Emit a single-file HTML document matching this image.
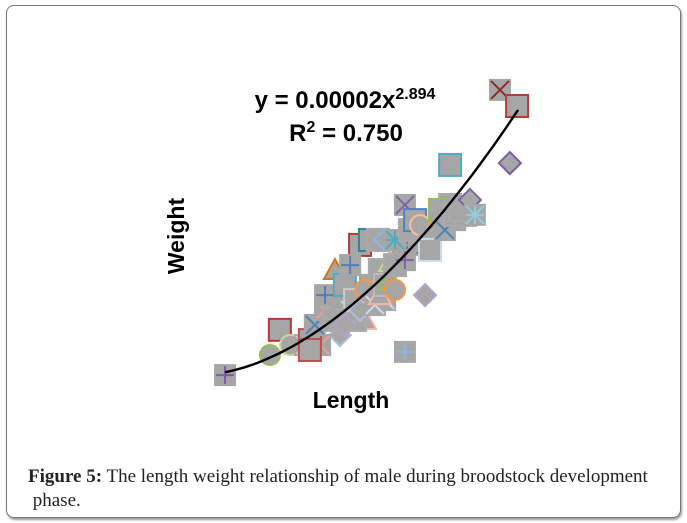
<!DOCTYPE html>
<html><head><meta charset="utf-8"><style>
html,body{margin:0;padding:0;background:#fff;}
body{width:687px;height:523px;position:relative;overflow:hidden;}
#frame{position:absolute;left:6px;top:5px;width:673px;height:511px;border:1px solid #777;border-radius:8px;box-shadow:1px 2px 2px #999;}
#caption{position:absolute;left:28px;top:465px;font-family:"Liberation Serif",serif;font-size:19px;color:#222;line-height:24px;width:650px;white-space:nowrap;}
</style></head><body>
<div id="frame"></div>
<svg id="chart" width="687" height="460" style="position:absolute;left:0;top:0">
<g id="marks"></g>
<path id="trend" fill="none" stroke="#000" stroke-width="2.4"></path>
<text x="345" y="108" text-anchor="middle" font-family="Liberation Sans, sans-serif" font-weight="bold" font-size="24">y = 0.00002x<tspan font-size="16" dy="-9">2.894</tspan></text>
<text x="346" y="141" text-anchor="middle" font-family="Liberation Sans, sans-serif" font-weight="bold" font-size="24">R<tspan font-size="16" dy="-9">2</tspan><tspan dy="9"> = 0.750</tspan></text>
<text x="0" y="0" transform="translate(184,236) rotate(-90)" text-anchor="middle" font-family="Liberation Sans, sans-serif" font-weight="bold" font-size="23">Weight</text>
<text x="351" y="408" text-anchor="middle" font-family="Liberation Sans, sans-serif" font-weight="bold" font-size="23">Length</text>
</svg>
<div id="caption"><b>Figure 5:</b> The length weight relationship of male during broodstock development<br>&nbsp;phase.</div>
<script>
const lengths=[39.4,42.4,45.5,48.5,51.5,54.5,57.6,60.6,63.6,66.7,72.7,75.8,77.3,80.3,56.1,50,47,42.4,36.4,7.6,21.2,24.2,27.3,31.8,33.3,34.8,37.9,37.9,40.9,43.9,47,48.5,50,53,54.5,56.1,57.6,59.1,48.5,51.5,53.9,56.1,59.1,62.1,63.6,65.2,66.7,69.7,69.7,72.7,72.7,74.2,77.3,78.8,81.8,83.3,75.8,93.9,68.2,62.1,90.9,96.1,59.1,62.1,45.5,40.9,43.9,33.3];
const weights=[27.4,29,25.8,30.6,33.9,38.7,41.3,43.5,46.8,48.4,53.2,59.7,54.8,56.5,29,22.6,22.6,17.7,14.5,4.8,11.3,19.4,14.5,14.5,16.1,21,25.8,30.6,38.7,33.9,29,25.8,32.3,27.4,30.6,33.9,35.5,32.3,46.8,48.4,48.4,48.4,48.4,59.7,51.6,54.8,53.2,50,45.2,56.5,58.1,51.6,56.5,58.1,61.3,56.5,72.6,73.2,30.6,12.3,96.8,91.6,40.3,41.9,40.3,22.6,21,12.9];
const markerTypes=["square","triangle","sq-x","circle","sq-plus","square","triangle","circle","sq-x","square","diamond","square","sq-x","square","sq-x","triangle","square","diamond","sq-x","sq-plus","circle","square","circle","sq-x","square","sq-x","sq-x","sq-plus","triangle","square","square","diamond","circle","sq-x","triangle","square","triangle","circle","square","square","square","diamond","sq-ast","sq-x","square","square","circle","square","square","triangle","square","sq-x","square","square","diamond","sq-ast","square","diamond","diamond","sq-plus","sq-x","square","square","sq-plus","sq-plus","square","diamond","square"];
const markerColors=["#aaa","#9bbb59","#c6d9f1","#f2b8a8","#4f81bd","#aaa","#c3d69b","#fac090","#8064a2","#aaa","#4bacc6","#aaa","#8fb4e3","#aaa","#c6d9f1","#f2b8a8","#aaa","#aac0e0","#e6a0a0","#7e5ba5","#9bbb59","#b23c3c","#c3d69b","#c9c9d9","#c0504d","#4f81bd","#e6a0a0","#4f81bd","#d07820","#4bacc6","#cccccc","#aac0e0","#f79646","#c6d9f1","#f2b8a8","#bbb","#9bbb59","#f79646","#b23c3c","#31859c","#aaa","#8fb4e3","#4bacc6","#8064a2","#aaa","#4f81bd","#fac090","#aaa","#c6dbe9","#f79646","#9bbb59","#4f81bd","#aaa","#aaa","#8064a2","#93cddd","#4bacc6","#7e5ba5","#b3a2c7","#8eb4e3","#8b2c2c","#b23c3c","#aaa","#8064a2","#4f81bd","#aaa","#b3a2c7","#c0504d"];
const fitA=0.02295, fitB=1.8, fitC=4.84, fitMin=7.6, fitMax=96.4;
function xs(v){return 200+v*3.3;}
function ys(v){return 390-v*3.1;}
const g=document.getElementById('marks');
const NS='http://www.w3.org/2000/svg';
function mk(tag,attrs){const e=document.createElementNS(NS,tag);for(const k in attrs)e.setAttribute(k,attrs[k]);return e;}
for(let i=0;i<lengths.length;i++){
  const cx=xs(lengths[i]), cy=ys(weights[i]), t=markerTypes[i], c=markerColors[i], h=11;
  const grp=mk('g',{});
  
  
  if(t==='circle'){grp.appendChild(mk('circle',{cx:cx,cy:cy,r:h-1,fill:'#a6a6a6',stroke:c,'stroke-width':2}));}
  else if(t==='diamond'){grp.appendChild(mk('polygon',{points:`${cx},${cy-h} ${cx+h},${cy} ${cx},${cy+h} ${cx-h},${cy}`,fill:'#a6a6a6',stroke:c,'stroke-width':2}));}
  else if(t==='triangle'){grp.appendChild(mk('polygon',{points:`${cx},${cy-h} ${cx+h},${cy+h-2} ${cx-h},${cy+h-2}`,fill:'#a6a6a6',stroke:c,'stroke-width':2}));}
  else {
    const bordered=(t==='square');
    grp.appendChild(mk('rect',{x:cx-h,y:cy-h,width:2*h,height:2*h,fill:'#a6a6a6',stroke:bordered?c:'none','stroke-width':2}));
    if(t==='sq-plus'||t==='sq-ast'){grp.appendChild(mk('path',{d:`M${cx-h+2},${cy}H${cx+h-2}M${cx},${cy-h+2}V${cy+h-2}`,stroke:c,'stroke-width':2}));}
    if(t==='sq-x'||t==='sq-ast'){grp.appendChild(mk('path',{d:`M${cx-h+2},${cy-h+2}L${cx+h-2},${cy+h-2}M${cx+h-2},${cy-h+2}L${cx-h+2},${cy+h-2}`,stroke:c,'stroke-width':2}));}
  }
  g.appendChild(grp);
}
let d='';
for(let k=0;k<=60;k++){const L=fitMin+(fitMax-fitMin)*k/60;const W=fitC+fitA*Math.pow(L,fitB);d+=(k?'L':'M')+xs(L).toFixed(1)+','+ys(W).toFixed(1);}
document.getElementById('trend').setAttribute('d',d);
</script>
</body></html>
